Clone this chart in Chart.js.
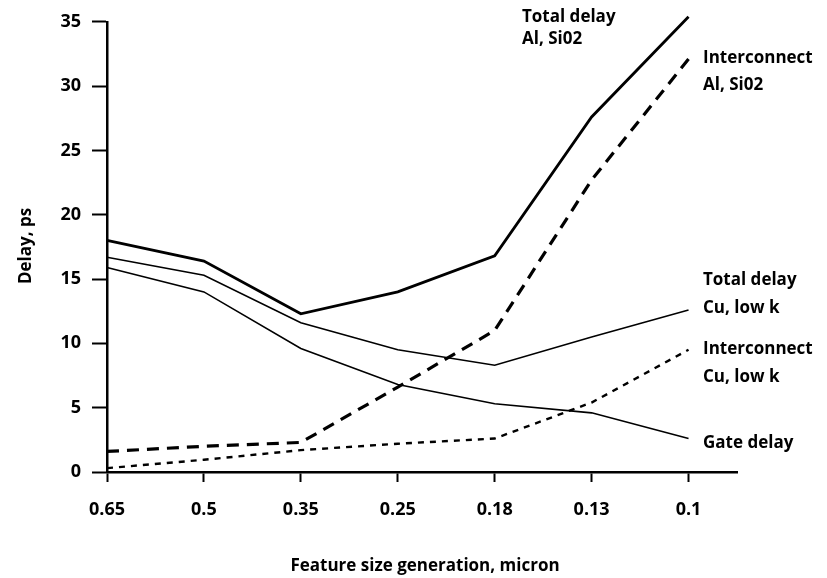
<!DOCTYPE html>
<html>
<head>
<meta charset="utf-8">
<script src="https://cdn.jsdelivr.net/npm/chart.js@4"></script>
<style>
  html, body { margin: 0; padding: 0; background: #fff; }
  #wrap { width: 827px; height: 578px; }
</style>
</head>
<body>
<div id="wrap"><canvas id="myChart" width="827" height="578"></canvas></div>
<script>
// feature size generations (micron)
const sizeLabels = ['0.65', '0.5', '0.35', '0.25', '0.18', '0.13', '0.1'];
const yTicks = [0, 5, 10, 15, 20, 25, 30, 35];

// delay in ps
const totalAl = [18.0, 16.4, 12.3, 14.0, 16.8, 27.6, 35.4];
const interAl = [1.6, 2.0, 2.3, 6.6, 11.0, 22.7, 32.1];
const totalCu = [16.7, 15.3, 11.6, 9.5, 8.3, 10.5, 12.6];
const gateDelay = [15.9, 14.0, 9.6, 6.8, 5.3, 4.6, 2.6];
const interCu = [0.3, 0.95, 1.7, 2.2, 2.6, 5.4, 9.5];

const FONT = '"Open Sans", "Noto Sans", sans-serif';

const toPts = (arr) => arr.map((v, i) => ({ x: i, y: v }));

const makeSet = (label, arr, width, dash) => ({
    label: label,
    data: toPts(arr),
    borderColor: '#000',
    borderWidth: width,
    borderDash: dash,
    pointRadius: 0,
    tension: 0,
    fill: false,
    clip: false
});

// text labels at the right side + axis titles
const textPlugin = {
    id: 'textPlugin',
    afterDraw(chart) {
        const ctx = chart.ctx;
        const area = chart.chartArea;
        const right = 703;

        ctx.save();
        ctx.fillStyle = '#000';
        ctx.textBaseline = 'alphabetic';
        ctx.textAlign = 'left';
        ctx.font = 'bold 17px ' + FONT;

        ctx.fillText('Total delay', 522, 22);
        ctx.fillText('Al, Si02', 522, 44);

        ctx.fillText('Interconnect', right, 63);
        ctx.fillText('Al, Si02', right, 90);

        ctx.fillText('Total delay', right, 285);
        ctx.fillText('Cu, low k', right, 313);

        ctx.fillText('Interconnect', right, 354);
        ctx.fillText('Cu, low k', right, 382);

        ctx.fillText('Gate delay', right, 448);

        // axis titles
        ctx.font = 'bold 17px ' + FONT;
        ctx.textAlign = 'center';
        ctx.textBaseline = 'middle';
        ctx.fillText('Feature size generation, micron', (area.left + area.right) / 2 + 3, 566);

        ctx.translate(26, 246);
        ctx.rotate(-Math.PI / 2);
        ctx.fillText('Delay, ps', 0, 0);
        ctx.restore();
    }
};

const myChart = new Chart('myChart', {
    type: 'line',
    data: {
        datasets: [
            makeSet('Total delay Al, Si02', totalAl, 2.8, []),
            makeSet('Interconnect Al, Si02', interAl, 3.2, [12, 8]),
            makeSet('Total delay Cu, low k', totalCu, 1.6, []),
            makeSet('Gate delay', gateDelay, 1.6, []),
            makeSet('Interconnect Cu, low k', interCu, 2.4, [6, 6])
        ]
    },
    options: {
        responsive: false,
        animation: false,
        layout: { padding: { top: 20, right: 90, left: 0, bottom: 0 } },
        plugins: {
            legend: { display: false },
            tooltip: { enabled: false }
        },
        scales: {
            x: {
                type: 'linear',
                min: 0,
                max: 6.5,
                afterFit: (scale) => { scale.height = 106; },
                afterBuildTicks: (scale) => {
                    scale.ticks = sizeLabels.map((_, i) => ({ value: i }));
                },
                ticks: {
                    color: '#000',
                    font: { family: FONT, size: 18, weight: 'bold' },
                    padding: 17,
                    maxRotation: 0,
                    callback: (v) => sizeLabels[v]
                },
                grid: {
                    drawOnChartArea: false,
                    drawTicks: true,
                    tickLength: 10,
                    tickWidth: 2,
                    tickColor: '#000'
                },
                border: { display: true, color: '#000', width: 2.5 }
            },
            y: {
                min: 0,
                max: 35,
                afterFit: (scale) => { scale.width = 107; },
                afterBuildTicks: (scale) => {
                    scale.ticks = yTicks.map((v) => ({ value: v }));
                },
                ticks: {
                    color: '#000',
                    font: { family: FONT, size: 18, weight: 'bold' },
                    padding: 11
                },
                grid: {
                    drawOnChartArea: false,
                    drawTicks: true,
                    tickLength: 15,
                    tickWidth: 2,
                    tickColor: '#000'
                },
                border: { display: true, color: '#000', width: 2.5 }
            }
        }
    },
    plugins: [textPlugin]
});
</script>
</body>
</html>
